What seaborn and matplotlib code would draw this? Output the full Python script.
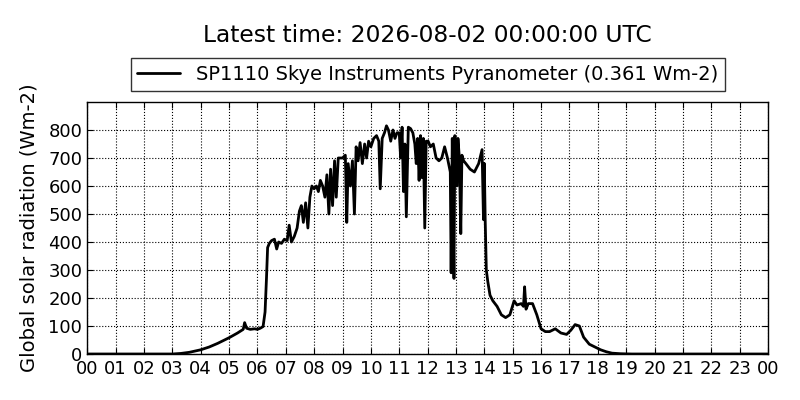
import matplotlib
matplotlib.use("Agg")
import matplotlib.pyplot as plt
import numpy as np
import pandas as pd
import seaborn as sns

# (hour since midnight, global solar radiation Wm-2)
night_morning = [(0.0, 0), (1.0, 0), (2.0, 0), (2.8, 0), (3.0, 0), (3.3, 2), (3.6, 6),
                 (4.0, 15), (4.3, 25), (4.6, 38), (5.0, 58), (5.3, 75), (5.5, 88),
                 (5.55, 112), (5.62, 92), (5.75, 88), (5.9, 90), (6.0, 88), (6.1, 92),
                 (6.2, 98), (6.27, 150), (6.32, 270), (6.36, 380), (6.42, 395),
                 (6.5, 405), (6.6, 410), (6.68, 375), (6.75, 400), (6.85, 395),
                 (6.95, 410), (7.05, 405), (7.12, 460), (7.2, 400), (7.3, 420),
                 (7.4, 450), (7.48, 510), (7.55, 530), (7.62, 470), (7.7, 540),
                 (7.78, 450), (7.85, 560), (7.92, 600), (8.0, 590), (8.08, 600),
                 (8.15, 580), (8.22, 620), (8.3, 600), (8.38, 560), (8.45, 640),
                 (8.52, 500), (8.58, 660), (8.65, 530), (8.72, 690), (8.78, 560),
                 (8.85, 700), (9.0, 700), (9.1, 710), (9.15, 470), (9.2, 680),
                 (9.28, 600), (9.35, 690), (9.42, 500), (9.48, 740), (9.55, 690),
                 (9.62, 755), (9.7, 680), (9.78, 750), (9.85, 700), (9.92, 760),
                 (10.0, 740)]
midday = [(10.1, 770), (10.2, 780), (10.28, 760), (10.33, 590), (10.4, 770),
          (10.48, 790), (10.55, 815), (10.62, 800), (10.7, 760), (10.78, 800),
          (10.85, 770), (10.92, 790), (11.0, 790), (11.05, 700), (11.1, 810),
          (11.15, 580), (11.2, 750), (11.25, 490), (11.32, 810), (11.4, 805),
          (11.48, 790), (11.55, 750), (11.6, 680), (11.65, 770), (11.7, 620),
          (11.75, 780), (11.8, 630), (11.85, 770), (11.9, 450), (11.95, 760),
          (12.02, 760), (12.1, 740), (12.2, 750), (12.3, 700), (12.4, 690),
          (12.5, 700), (12.6, 740), (12.7, 700), (12.8, 650), (12.83, 290),
          (12.87, 770), (12.9, 500), (12.93, 270), (12.96, 780), (13.0, 750),
          (13.03, 600), (13.07, 770), (13.12, 700), (13.17, 430), (13.21, 710),
          (13.27, 690), (13.35, 680), (13.5, 660), (13.65, 650), (13.8, 680),
          (13.92, 730), (13.97, 480), (14.0, 680), (14.03, 480)]
afternoon = [(14.07, 300), (14.12, 260), (14.2, 210), (14.3, 190), (14.45, 170),
             (14.6, 140), (14.75, 130), (14.9, 140), (15.05, 190), (15.15, 175),
             (15.3, 180), (15.38, 170), (15.42, 240), (15.47, 160), (15.55, 180),
             (15.7, 180), (15.85, 140), (16.0, 90), (16.15, 80), (16.3, 80),
             (16.5, 90), (16.7, 75), (16.9, 70), (17.05, 85), (17.2, 105),
             (17.35, 100), (17.5, 60), (17.7, 35), (17.9, 25), (18.1, 15),
             (18.3, 8), (18.5, 3), (18.8, 1), (19.2, 0), (20.0, 0), (22.0, 0),
             (24.0, 0)]
tick_hours = list(range(0, 25))
tick_labels = ["%02d" % (h % 24) for h in tick_hours]
y_ticks = list(range(0, 900, 100))

df = pd.DataFrame(night_morning + midday + afternoon, columns=["hour", "rad"])

sns.set_style("white")
plt.rcParams['font.family'] = ['DejaVu Sans']
plt.rcParams['text.color'] = 'black'
plt.rcParams['axes.labelcolor'] = 'black'
plt.rcParams['xtick.color'] = 'black'
plt.rcParams['ytick.color'] = 'black'

fig = plt.figure(figsize=(8, 4), dpi=100, facecolor='white')
ax = fig.add_axes([0.109, 0.115, 0.851, 0.63])
sns.lineplot(data=df, x="hour", y="rad", ax=ax, color='black', linewidth=2,
             label="SP1110 Skye Instruments Pyranometer (0.361 Wm-2)")

ax.set_xlim(0, 24)
ax.set_ylim(0, 900)
ax.set_xticks(tick_hours)
ax.set_xticklabels(tick_labels)
ax.set_yticks(y_ticks)
ax.tick_params(direction='in', length=4, labelsize=13, top=True, right=True,
               bottom=True, left=True, color='black', labelcolor='black')
ax.tick_params(axis='x', pad=4)
ax.grid(True, color='black', linestyle=':', linewidth=0.8)
for s in ax.spines.values():
    s.set_color('black')
    s.set_linewidth(1)
ax.set_xlabel("")
ax.set_ylabel("Global solar radiation (Wm-2)", fontsize=14, color='black')
ax.yaxis.set_label_coords(-0.072, 0.5)

leg = ax.legend(loc='lower center', bbox_to_anchor=(0.5, 1.045), fontsize=14,
                frameon=True, fancybox=False, borderaxespad=0, handlelength=2.2,
                borderpad=0.35)
leg.get_frame().set_edgecolor('black')
leg.get_frame().set_linewidth(1)
for t in leg.get_texts():
    t.set_color('black')

fig.text(0.534, 0.91, "Latest time: 2026-08-02 00:00:00 UTC", ha='center', va='center',
         fontsize=16.8, color='black')

fig.savefig("out.png", dpi=100, facecolor='white')
